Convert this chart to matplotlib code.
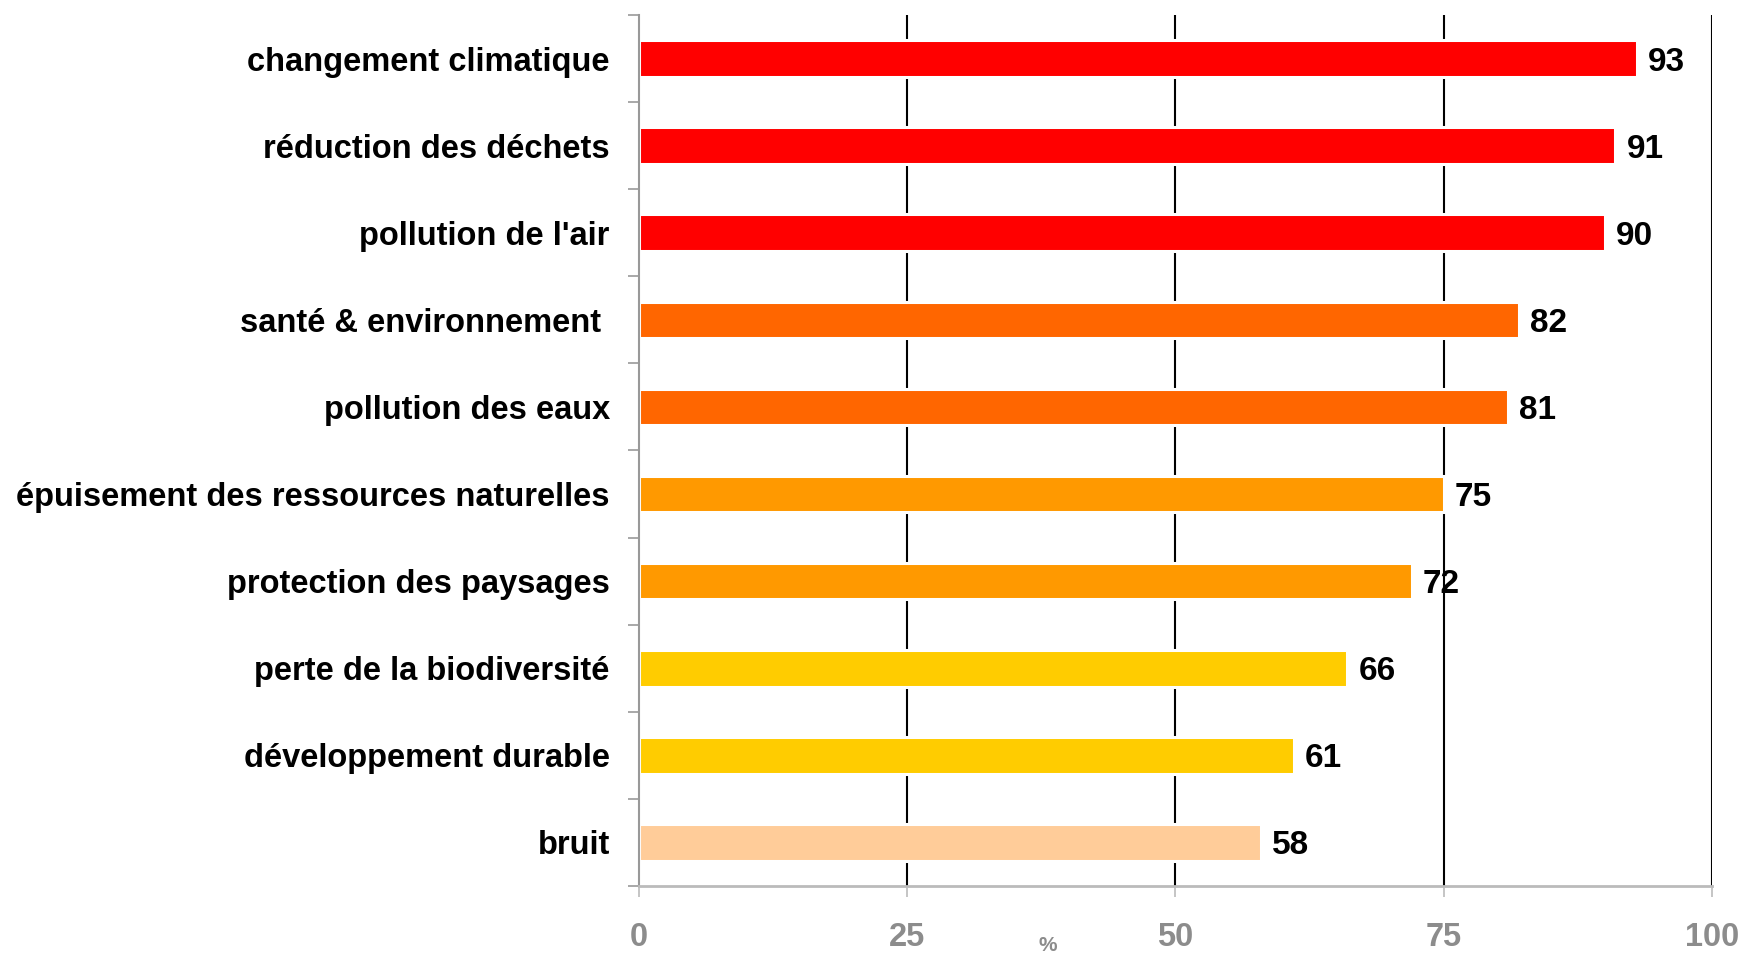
import matplotlib
matplotlib.use("Agg")
from matplotlib import pyplot as plt
from matplotlib.ticker import FixedLocator

#donnees
categories = ["changement climatique", "réduction des déchets", "pollution de l'air",
              "santé & environnement ", "pollution des eaux",
              "épuisement des ressources naturelles", "protection des paysages",
              "perte de la biodiversité", "développement durable", "bruit"]
valeurs = [93, 91, 90, 82, 81, 75, 72, 66, 61, 58]
couleurs = ["#FF0000", "#FF0000", "#FF0000", "#FF6600", "#FF6600",
            "#FF9900", "#FF9900", "#FFCC00", "#FFCC00", "#FFCC99"]
ticks_x = [0, 25, 50, 75, 100]

plt.rcParams['font.family'] = ['Liberation Sans', 'DejaVu Sans']

fig = plt.figure(figsize=(17.43, 9.55), dpi=100)
ax = fig.add_axes([0.3666, 0.0723, 0.6156, 0.912])

positions = list(range(len(categories)))

#grille verticale
for t in ticks_x[1:]:
    ax.axvline(t, color="black", linewidth=1.5, zorder=1)

ax.barh(positions, valeurs, height=0.42, color=couleurs, edgecolor="white",
        linewidth=2.2, zorder=2)

for p, v in zip(positions, valeurs):
    ax.annotate(str(v), xy=(v, p), xytext=(8, 0), textcoords="offset points",
                ha="left", va="center_baseline", fontsize=24, fontweight="bold",
                color="black", zorder=3)

ax.set_xlim(0, 100)
ax.set_ylim(len(categories) - 0.5, -0.5)

ax.set_yticks(positions)
ax.set_yticklabels(categories, fontsize=23.5, fontweight="bold")
ax.tick_params(axis="y", which="major", length=0, pad=21)
ax.yaxis.set_minor_locator(FixedLocator([p - 0.5 for p in positions] + [len(categories) - 0.5]))
ax.tick_params(axis="y", which="minor", length=8, width=1.2, color="#999999")

ax.set_xticks(ticks_x)
ax.set_xticklabels([str(t) for t in ticks_x], fontsize=23.5, fontweight="bold", color="#8C8C8C")
ax.tick_params(axis="x", length=8, width=1.2, color="#BBBBBB", pad=18)

for s in ["top", "right"]:
    ax.spines[s].set_visible(False)
ax.spines["left"].set_color("#999999")
ax.spines["left"].set_linewidth(1.5)
ax.spines["bottom"].set_color("#BBBBBB")
ax.spines["bottom"].set_linewidth(2)

ax.text(38.1, -0.068, "%", transform=ax.get_xaxis_transform(), ha="center", va="center",
        fontsize=15, fontweight="bold", color="#8C8C8C")

fig.savefig("out.png", dpi=100)
